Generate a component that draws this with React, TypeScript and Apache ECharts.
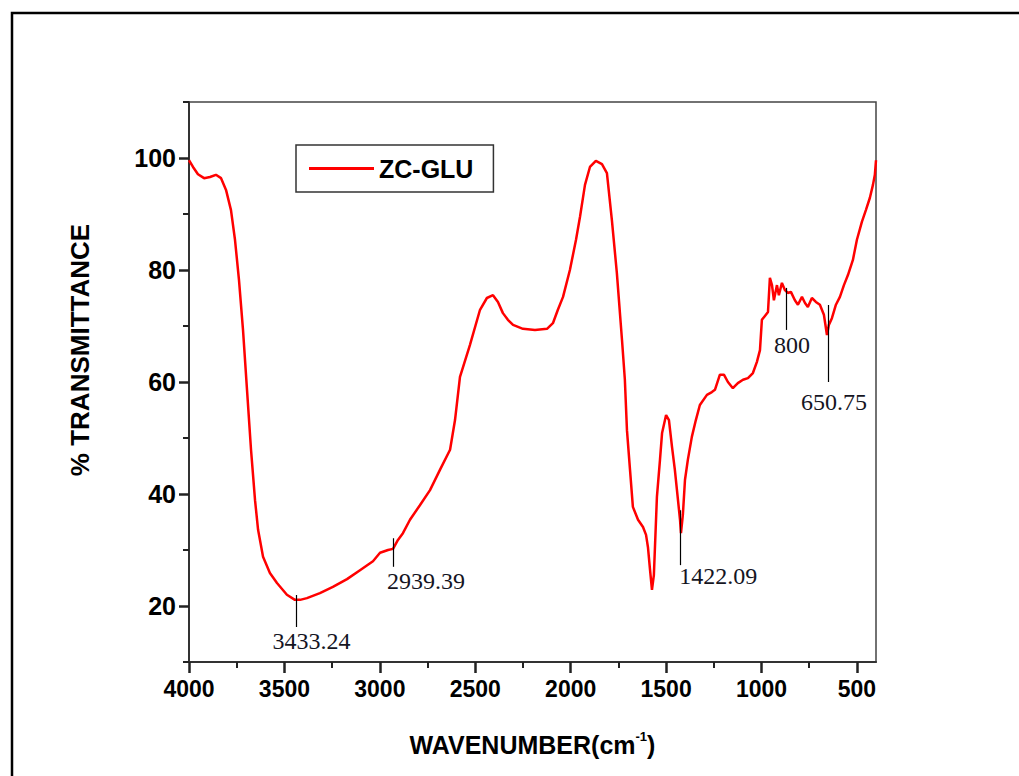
import React, { useEffect, useRef } from 'react';
import * as echarts from 'echarts';

const wavenumbers = [
  4000, 3979, 3953, 3921, 3890, 3859, 3832, 3806, 3780, 3759, 3738, 3717, 3696, 3675, 3654, 3638,
  3612, 3576, 3539, 3487, 3445, 3418, 3382, 3314, 3246, 3172, 3104, 3036, 2999, 2957, 2931, 2905,
  2879, 2842, 2790, 2737, 2685, 2632, 2606, 2580, 2528, 2475, 2439, 2407, 2381, 2355, 2329, 2302,
  2250, 2187, 2124, 2093, 2067, 2040, 2004, 1972, 1951, 1925, 1899, 1868, 1836, 1810, 1784, 1758,
  1731, 1716, 1705, 1689, 1674, 1647, 1621, 1605, 1595, 1584, 1574, 1564, 1548, 1532, 1521, 1500,
  1485, 1469, 1454, 1443, 1427, 1422, 1412, 1401, 1386, 1365, 1344, 1323, 1286, 1260, 1244, 1218,
  1197, 1176, 1150, 1124, 1097, 1071, 1045, 1024, 1008, 998, 982, 966, 956, 945, 935, 919,
  909, 893, 877, 862, 846, 825, 809, 788, 772, 757, 736, 715, 694, 673, 657, 647,
  631, 610, 589, 568, 547, 521, 500, 474, 453, 432, 416, 406, 400,
];
const transmittance = [
  99.6, 98.4, 97.1, 96.4, 96.6, 97.0, 96.4, 94.3, 90.7, 85.4, 78.2, 69.3, 58.6, 47.9, 38.9, 33.6,
  28.8, 25.9, 24.1, 22.0, 21.1, 21.1, 21.4, 22.3, 23.4, 24.8, 26.4, 28.0, 29.5, 30.0, 30.2, 31.8,
  33.0, 35.4, 38.0, 40.7, 44.3, 47.9, 53.2, 60.9, 66.6, 72.9, 75.0, 75.5, 74.3, 72.3, 71.1, 70.2,
  69.5, 69.3, 69.5, 70.5, 72.9, 75.2, 80.0, 85.4, 89.5, 95.2, 98.4, 99.5, 98.9, 97.3, 88.9, 79.5,
  67.5, 60.4, 51.4, 44.3, 37.7, 35.4, 34.1, 32.7, 30.5, 26.4, 22.9, 25.5, 39.5, 46.1, 50.9, 54.1,
  53.2, 48.4, 44.3, 40.7, 35.4, 33.0, 36.3, 42.5, 46.1, 50.2, 53.2, 55.9, 57.7, 58.2, 58.6, 61.3,
  61.3, 60.0, 58.9, 59.8, 60.4, 60.7, 61.6, 63.6, 65.7, 71.1, 71.8, 72.5, 78.6, 77.3, 74.6, 77.3,
  75.5, 77.7, 76.4, 75.9, 76.1, 74.6, 73.8, 75.2, 74.1, 73.4, 75.0, 74.3, 73.8, 72.0, 68.4, 70.2,
  71.4, 73.8, 75.2, 77.3, 79.1, 81.8, 85.4, 88.6, 90.7, 92.9, 95.2, 97.0, 99.6,
];

const seriesName = 'ZC-GLU';
const yTitle = '% TRANSMITTANCE';
const xMajorTicks = [4000, 3500, 3000, 2500, 2000, 1500, 1000, 500];
const xMinorTicks = [3750, 3250, 2750, 2250, 1750, 1250, 750];
const yMajorTicks = [20, 40, 60, 80, 100];
const yMinorTicks = [10, 30, 50, 70, 90, 110];

// peak annotations: label, marker x, marker line top/bottom (T), label centre (x, T)
const peakLabels = ['3433.24', '2939.39', '1422.09', '800', '650.75'];
const peakLineX = [3439, 2930, 1425, 872, 652.6];
const peakLineTop = [21.96, 32.1, 37.1, 76.8, 73.75];
const peakLineBottom = [16.25, 27.0, 27.3, 69.3, 60.0];
const peakLabelX = [3358, 2758, 1226, 840.6, 620.5];
const peakLabelY = [13.75, 24.46, 25.36, 66.6, 56.4];

const sans = '"Liberation Sans", Arial, sans-serif';
const serif = '"Liberation Serif", "Times New Roman", serif';

export default function App() {
  const ref = useRef<HTMLDivElement>(null);
  useEffect(() => {
    document.body.style.margin = '0';
    const chart = echarts.init(ref.current!, null, { renderer: 'svg' });
    const option: any = {
      animation: false,
      backgroundColor: '#fff',
      grid: {
        left: 189, right: 143, top: 102, bottom: 114,
        show: true, borderColor: '#444', borderWidth: 1.5, backgroundColor: 'transparent',
      },
      graphic: [
        {
          type: 'rect',
          shape: { x: 12, y: 13, width: 1100, height: 900 },
          style: { fill: 'none', stroke: '#000', lineWidth: 2.5 },
          silent: true,
        },
        {
          type: 'text',
          x: 80, y: 350,
          rotation: Math.PI / 2,
          style: {
            text: yTitle, fontSize: 26, fontWeight: 'bold', fontFamily: sans, fill: '#000',
            align: 'center', verticalAlign: 'middle',
          },
          silent: true,
        },
      ],
      legend: {
        data: [{ name: seriesName, icon: 'rect' }],
        left: 296, top: 145,
        itemWidth: 65, itemHeight: 3,
        padding: [11, 20, 11, 13],
        borderColor: '#333', borderWidth: 1.5,
        textStyle: { fontSize: 25, fontWeight: 'bold', fontFamily: sans, color: '#000', lineHeight: 25 },
      },
      xAxis: [
        {
          type: 'value', min: 400, max: 4000, inverse: true,
          name: '{t|WAVENUMBER(cm}{s|-1}{t|)}',
          nameLocation: 'middle', nameGap: 68,
          nameTextStyle: {
            rich: {
              t: { fontSize: 25, fontWeight: 'bold', fontFamily: sans, color: '#000', lineHeight: 30 },
              s: { fontSize: 13, fontWeight: 'bold', fontFamily: sans, color: '#000', verticalAlign: 'top', lineHeight: 30 },
            },
          },
          axisLine: { show: true, onZero: false, lineStyle: { color: '#333', width: 2 } },
          axisTick: { show: true, customValues: xMinorTicks, length: 6, lineStyle: { color: '#222', width: 2 } },
          axisLabel: {
            customValues: xMajorTicks, formatter: (v: number) => String(v),
            fontSize: 23, fontWeight: 'bold', fontFamily: sans, color: '#000', margin: 15,
          },
          splitLine: { show: false },
        },
        {
          type: 'value', min: 400, max: 4000, inverse: true, position: 'bottom',
          axisLine: { show: false, onZero: false },
          axisTick: { show: true, customValues: xMajorTicks, length: 11, lineStyle: { color: '#222', width: 2.5 } },
          axisLabel: { show: false },
          splitLine: { show: false },
        },
      ],
      yAxis: [
        {
          type: 'value', min: 10, max: 110,
          axisLine: { show: true, onZero: false, lineStyle: { color: '#333', width: 2 } },
          axisTick: { show: true, customValues: yMinorTicks, length: 6, lineStyle: { color: '#222', width: 2 } },
          axisLabel: {
            customValues: yMajorTicks, formatter: (v: number) => String(v),
            fontSize: 25, fontWeight: 'bold', fontFamily: sans, color: '#000', margin: 13,
          },
          splitLine: { show: false },
        },
        {
          type: 'value', min: 10, max: 110, position: 'left',
          axisLine: { show: false, onZero: false },
          axisTick: { show: true, customValues: yMajorTicks, length: 10, lineStyle: { color: '#222', width: 2.5 } },
          axisLabel: { show: false },
          splitLine: { show: false },
        },
      ],
      series: [
        {
          name: seriesName,
          type: 'line',
          xAxisIndex: 0, yAxisIndex: 0,
          data: wavenumbers.map((w, i) => [w, transmittance[i]]),
          symbol: 'none',
          lineStyle: { color: '#ff0000', width: 2.5 },
          itemStyle: { color: '#ff0000' },
          markLine: {
            silent: true,
            symbol: ['none', 'none'],
            label: { show: false },
            lineStyle: { color: '#000', width: 1.2, type: 'solid' },
            data: peakLineX.map((x, i) => [
              { coord: [x, peakLineTop[i]] },
              { coord: [x, peakLineBottom[i]] },
            ]),
          },
          markPoint: {
            silent: true,
            symbol: 'circle',
            symbolSize: 0,
            data: peakLabels.map((l, i) => ({
              coord: [peakLabelX[i], peakLabelY[i]],
              label: {
                show: true, position: 'inside', formatter: l,
                fontSize: 24, fontFamily: serif, color: '#15151f',
              },
            })),
          },
        },
      ],
    };
    chart.setOption(option);
    return () => chart.dispose();
  }, []);
  return <div ref={ref} style={{ width: 1019, height: 776 }} />;
}
